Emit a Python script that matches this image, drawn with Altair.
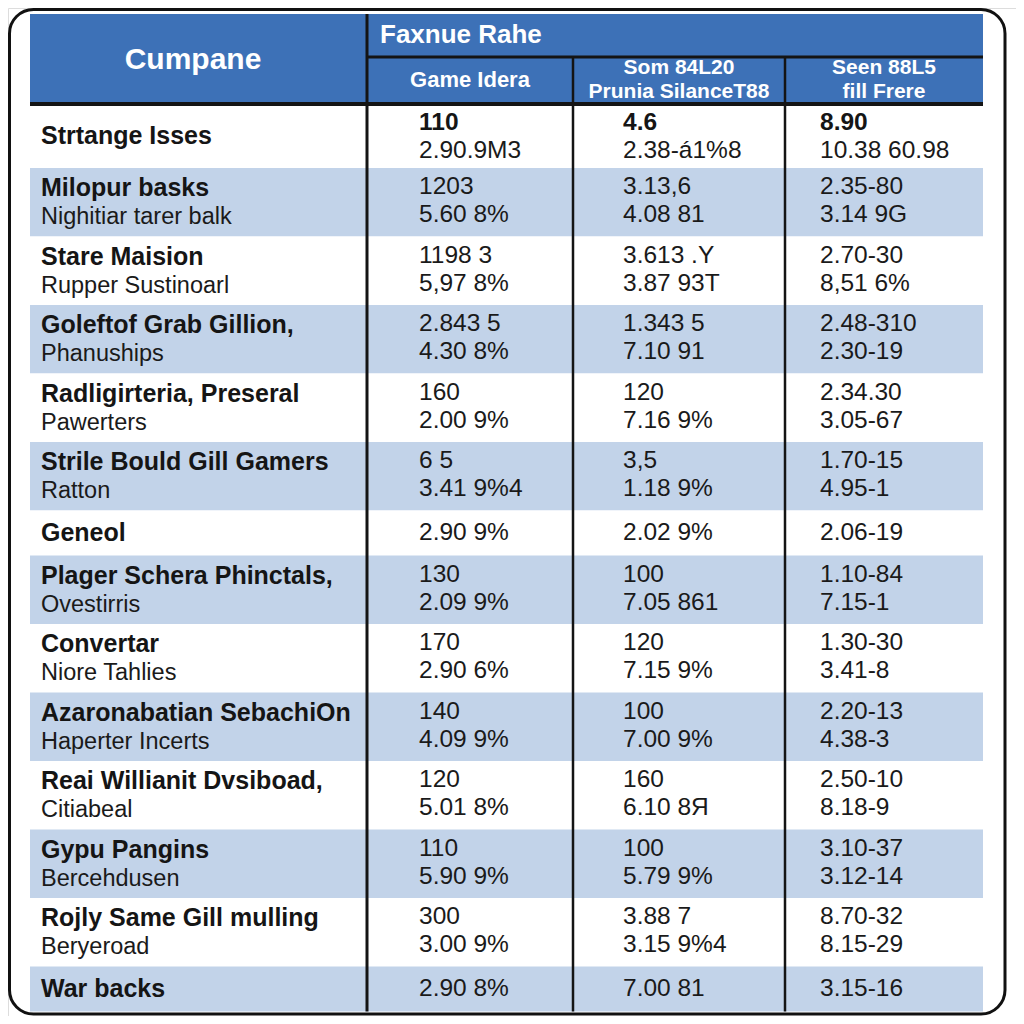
import altair as alt
import pandas as pd

# ---------------- data ----------------
names = ["Strtange Isses", "Milopur basks", "Stare Maision", "Goleftof Grab Gillion,",
         "Radligirteria, Preseral", "Strile Bould Gill Gamers", "Geneol",
         "Plager Schera Phinctals,", "Convertar", "Azaronabatian SebachiOn",
         "Reai Willianit Dvsiboad,", "Gypu Pangins", "Rojly Same Gill mulling", "War backs"]
subs = ["", "Nighitiar tarer balk", "Rupper Sustinoarl", "Phanuships", "Pawerters", "Ratton", "",
        "Ovestirris", "Niore Tahlies", "Haperter Incerts", "Citiabeal", "Bercehdusen", "Beryeroad", ""]
col1_top = ["110", "1203", "1198 3", "2.843 5", "160", "6 5", "2.90 9%", "130", "170", "140",
            "120", "110", "300", "2.90 8%"]
col1_bot = ["2.90.9M3", "5.60 8%", "5,97 8%", "4.30 8%", "2.00 9%", "3.41 9%4", "", "2.09 9%",
            "2.90 6%", "4.09 9%", "5.01 8%", "5.90 9%", "3.00 9%", ""]
col2_top = ["4.6", "3.13,6", "3.613 .Y", "1.343 5", "120", "3,5", "2.02 9%", "100", "120", "100",
            "160", "100", "3.88 7", "7.00 81"]
col2_bot = ["2.38-á1%8", "4.08 81", "3.87 93T", "7.10 91", "7.16 9%", "1.18 9%", "", "7.05 861",
            "7.15 9%", "7.00 9%", "6.10 8Я", "5.79 9%", "3.15 9%4", ""]
col3_top = ["8.90", "2.35-80", "2.70-30", "2.48-310", "2.34.30", "1.70-15", "2.06-19", "1.10-84",
            "1.30-30", "2.20-13", "2.50-10", "3.10-37", "8.70-32", "3.15-16"]
col3_bot = ["10.38 60.98", "3.14 9G", "8,51 6%", "2.30-19", "3.05-67", "4.95-1", "", "7.15-1",
            "3.41-8", "4.38-3", "8.18-9", "3.12-14", "8.15-29", ""]

title_left = "Cumpane"
group_title = "Faxnue Rahe"
sub_headers = [["Game Idera"], ["Som 84L20", "Prunia SilanceT88"], ["Seen 88L5", "fill Frere"]]

# ---------------- layout ----------------
TX0, TX1 = 30, 983
HEAD_TOP, HEAD_MID, HEAD_BOT = 14, 57, 104
text_x = [41, 419, 623, 820]
DARK = "#141414"
BLUE = "#3d71b7"
LIGHT = "#c2d3e9"

cols_top = [col1_top, col2_top, col3_top]
cols_bot = [col1_bot, col2_bot, col3_bot]

rows, texts = [], []
y = HEAD_BOT
for i in range(len(names)):
    two = any(c[i] for c in cols_bot) or subs[i] != ""
    h = (64 if i == 0 else 68.5) if two else 45
    rows.append({"x": TX0, "x2": TX1, "y": y, "y2": y + h,
                 "fill": LIGHT if i % 2 == 1 else "#ffffff"})
    # name column
    if subs[i]:
        texts.append({"x": text_x[0], "y": y + 20, "t": names[i], "w": "bold", "s": 25})
        texts.append({"x": text_x[0], "y": y + 49, "t": subs[i], "w": "normal", "s": 23.5})
    else:
        texts.append({"x": text_x[0], "y": y + h / 2, "t": names[i], "w": "bold", "s": 25})
    for c in range(3):
        top, bot = cols_top[c][i], cols_bot[c][i]
        wt = "bold" if i == 0 else "normal"
        if bot:
            texts.append({"x": text_x[c + 1], "y": y + 19, "t": top, "w": wt, "s": 24.5})
            texts.append({"x": text_x[c + 1], "y": y + 47, "t": bot, "w": "normal", "s": 24.5})
        else:
            texts.append({"x": text_x[c + 1], "y": y + h / 2, "t": top, "w": wt, "s": 24.5})
    y += h
TBOT = y

rows_df = pd.DataFrame(rows)
texts_df = pd.DataFrame(texts)

lines_df = pd.DataFrame([
    {"x": 367, "x2": 367, "y": HEAD_TOP, "y2": TBOT, "w": 3},
    {"x": 573, "x2": 573, "y": HEAD_MID, "y2": TBOT, "w": 2.5},
    {"x": 785, "x2": 785, "y": HEAD_MID, "y2": TBOT, "w": 2.5},
    {"x": 367, "x2": TX1, "y": HEAD_MID, "y2": HEAD_MID, "w": 3},
    {"x": TX0, "x2": TX1, "y": HEAD_BOT, "y2": HEAD_BOT, "w": 4},
])

head_c = [{"x": 193, "y": 60, "t": title_left, "s": 30}]
centers = [(573 + 367) / 2, (785 + 573) / 2, (TX1 + 785) / 2]
for cx, labels in zip(centers, sub_headers):
    if len(labels) == 1:
        head_c.append({"x": cx, "y": 80, "t": labels[0], "s": 22})
    else:
        head_c.append({"x": cx, "y": 68, "t": labels[0], "s": 21})
        head_c.append({"x": cx, "y": 92, "t": labels[1], "s": 21})
head_c_df = pd.DataFrame(head_c)
head_l_df = pd.DataFrame([{"x": 380, "y": 35, "t": group_title, "s": 26}])

card_df = pd.DataFrame([{"x": 9.5, "x2": 1005, "y": 9.5, "y2": 1014}])
header_df = pd.DataFrame([{"x": TX0, "x2": TX1, "y": HEAD_TOP, "y2": HEAD_BOT}])

X = alt.X("x:Q", scale=alt.Scale(domain=[8, 1016], nice=False, zero=False), axis=None)
Y = alt.Y("y:Q", scale=alt.Scale(domain=[8, 1016], nice=False, zero=False, reverse=True), axis=None)

card = alt.Chart(card_df).mark_rect(fill="white", stroke="#111111", strokeWidth=3,
                                    cornerRadius=24).encode(x=X, x2="x2:Q", y=Y, y2="y2:Q")
header = alt.Chart(header_df).mark_rect(fill=BLUE).encode(x=X, x2="x2:Q", y=Y, y2="y2:Q")
bands = alt.Chart(rows_df).mark_rect().encode(x=X, x2="x2:Q", y=Y, y2="y2:Q",
                                              fill=alt.Fill("fill:N", scale=None))
lines = alt.Chart(lines_df).mark_rule(color=DARK).encode(
    x=X, x2="x2:Q", y=Y, y2="y2:Q", strokeWidth=alt.StrokeWidth("w:Q", scale=None))

FONT = "Liberation Sans"
hc = alt.Chart(head_c_df).mark_text(font=FONT, fontWeight="bold", color="white", align="center",
                                    baseline="middle").encode(
    x=X, y=Y, text="t:N", size=alt.Size("s:Q", scale=None))
hl = alt.Chart(head_l_df).mark_text(font=FONT, fontWeight="bold", color="white", align="left",
                                    baseline="middle").encode(
    x=X, y=Y, text="t:N", size=alt.Size("s:Q", scale=None))
tb = alt.Chart(texts_df[texts_df.w == "bold"]).mark_text(
    font=FONT, fontWeight="bold", color="#151515", align="left", baseline="middle").encode(
    x=X, y=Y, text="t:N", size=alt.Size("s:Q", scale=None))
tn = alt.Chart(texts_df[texts_df.w == "normal"]).mark_text(
    font=FONT, color="#1a1a1a", align="left", baseline="middle").encode(
    x=X, y=Y, text="t:N", size=alt.Size("s:Q", scale=None))

chart = alt.layer(card, header, bands, lines, hc, hl, tb, tn).properties(
    width=1008, height=1008, padding=0
).configure_view(stroke=None).configure(background="white")

chart.save("out.html", embed_options={"renderer": "svg", "actions": False})
